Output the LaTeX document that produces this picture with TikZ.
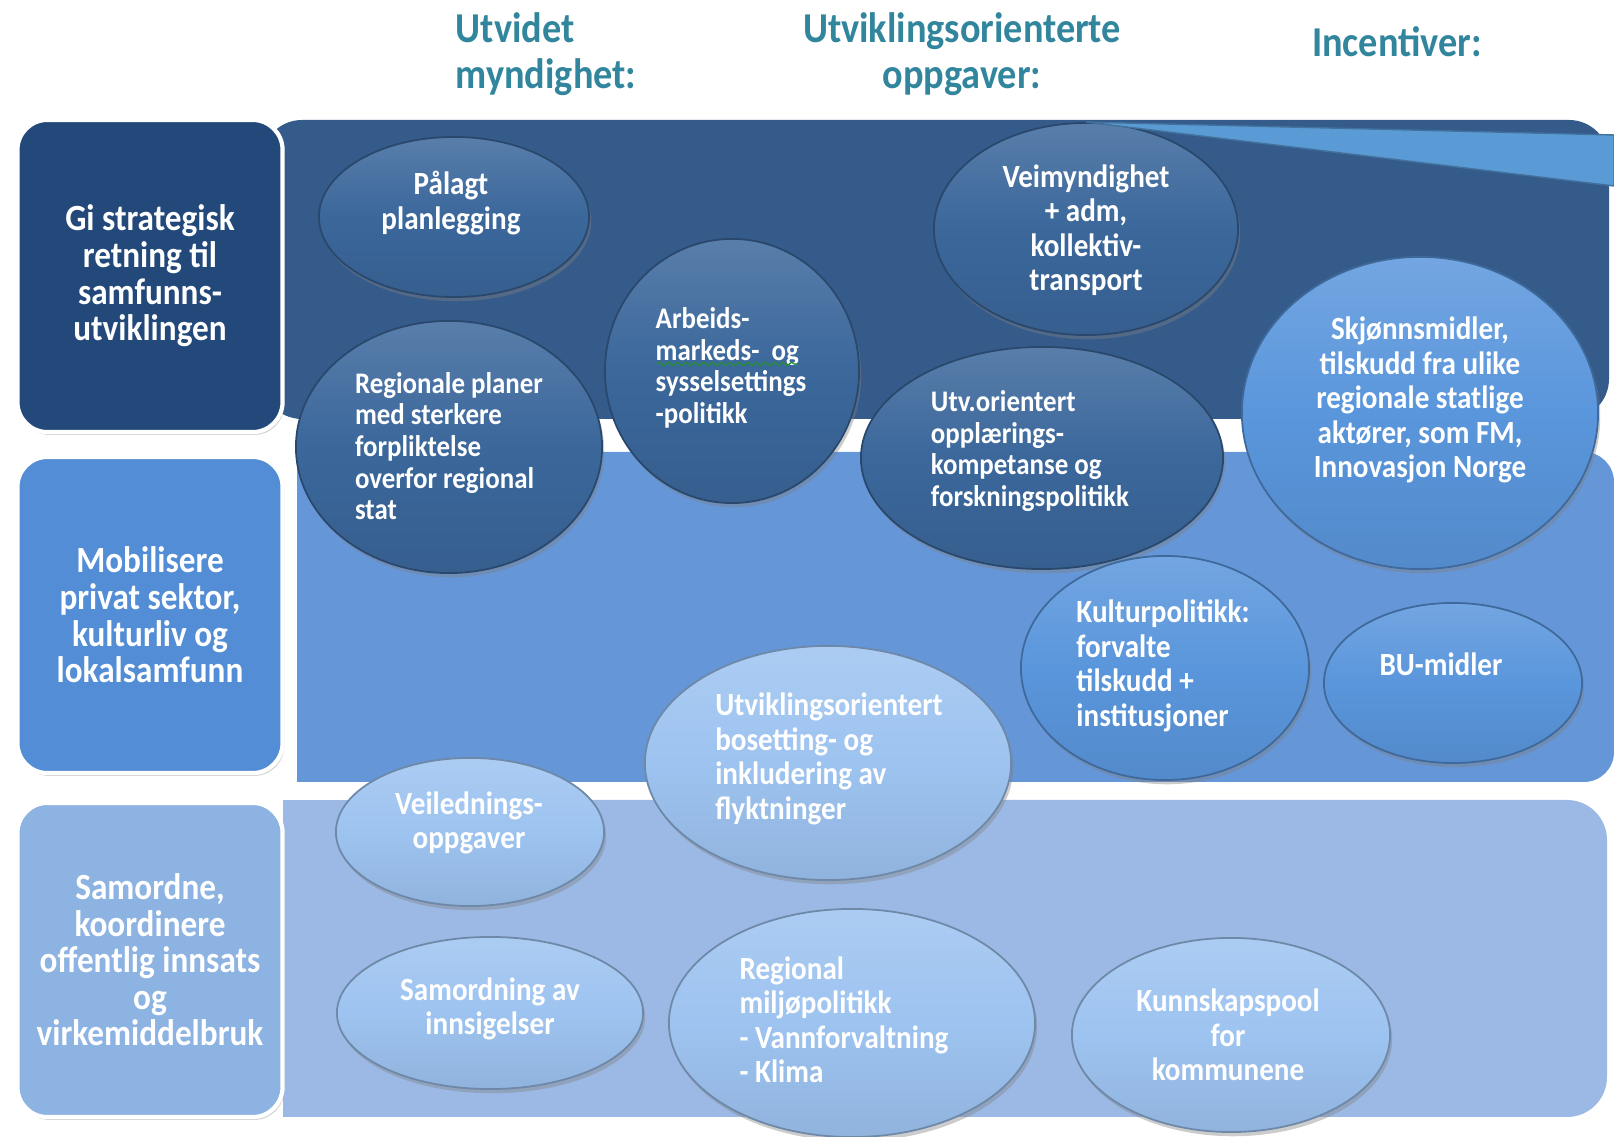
\documentclass[tikz,border=0pt]{standalone}
\usepackage{fontspec}
\setmainfont{Carlito}[FakeStretch=0.9]
\usetikzlibrary{shapes.geometric,shadows,decorations.pathmorphing}
\definecolor{hdteal}{RGB}{49,133,156}
\definecolor{bandA}{RGB}{53,91,139}
\definecolor{bandB}{RGB}{101,150,216}
\definecolor{bandC}{RGB}{155,185,228}
\definecolor{boxA}{RGB}{35,72,122}
\definecolor{boxB}{RGB}{83,141,213}
\definecolor{boxC}{RGB}{141,179,226}
\definecolor{ovalA}{RGB}{59,103,155}
\definecolor{ovalB}{RGB}{90,150,220}
\definecolor{ovalC}{RGB}{157,195,240}
\definecolor{wedgefill}{RGB}{91,155,213}
\definecolor{wedgeline}{RGB}{65,113,156}
\definecolor{squiggle}{RGB}{40,140,60}

\begin{document}
\begin{tikzpicture}[x=0.01cm, y=-0.01cm,
    head/.style={text=hdteal, inner sep=0pt, font=\fontsize{12.1}{13.1}\selectfont\bfseries},
    rowbox/.style={draw=white, line width=1.2pt, rounded corners=0.3cm, minimum width=2.65cm,
        text=white, align=center, font=\fontsize{10.5}{10.4}\selectfont\bfseries,
        drop shadow={shadow xshift=0.5pt, shadow yshift=-0.8pt, opacity=0.35}},
    oval/.style={ellipse, inner sep=0pt, line width=0.5pt,
        drop shadow={shadow xshift=0.6pt, shadow yshift=-1.2pt, opacity=0.4}},
    darkoval/.style={oval, draw=ovalA!70!black, top color=ovalA!85!white, bottom color=ovalA!92!black, middle color=ovalA},
    midoval/.style={oval, draw=ovalB!70!black, top color=ovalB!85!white, bottom color=ovalB!92!black, middle color=ovalB},
    lightoval/.style={oval, draw=ovalC!70!black, top color=ovalC!85!white, bottom color=ovalC!92!black, middle color=ovalC},
    ovaltext/.style={text=white, inner sep=0pt, font=\fontsize{9.2}{9.8}\selectfont\bfseries},
    smalltext/.style={ovaltext, font=\fontsize{8.5}{9}\selectfont\bfseries}]

    \useasboundingbox (0,0) rectangle (1614,1137);

    % column heads
    \node[head, anchor=west, align=left] (hdmynd) at (455,54)  {Utvidet\\myndighet:};
    \node[head, align=center]            (hdoppg) at (962,54)  {Utviklingsorienterte\\oppgaver:};
    \node[head]                          (hdinc)  at (1397,42) {Incentiver:};

    % bands
    \fill[bandA, rounded corners=0.4cm] (262,120) rectangle (1609,419);   %strategisk
    \fill[bandB, rounded corners=0.3cm] (400,452) rectangle (1614,782);   %mobilisere
    \fill[bandB]                        (297,452) rectangle (500,782);    %
    \fill[bandC, rounded corners=0.4cm] (400,800) rectangle (1607,1117);  %samordne
    \fill[bandC]                        (283,800) rectangle (500,1117);   %

    % row boxes
    \node[rowbox, fill=boxA, minimum height=3.12cm] (rowA) at (150,276) {Gi strategisk\\retning til\\samfunns-\\utviklingen};
    \node[rowbox, fill=boxB, minimum height=3.16cm] (rowB) at (150,615) {Mobilisere\\privat sektor,\\kulturliv og\\lokalsamfunn};
    \node[rowbox, fill=boxC, minimum height=3.14cm] (rowC) at (150,960) {Samordne,\\koordinere\\offentlig innsats\\og\\virkemiddelbruk};

    % ovals, top band
    \node[darkoval, minimum width=2.70cm, minimum height=1.60cm] (plan)  at (454,217)  {};
    \node[ovaltext, align=center] (plan-t)  at (451,203)  {Pålagt\\planlegging};
    \node[darkoval, minimum width=3.06cm, minimum height=2.52cm] (regpl) at (449,447)  {};
    \node[smalltext, align=left]  (regpl-t) at (449,446)  {Regionale planer\\med sterkere\\forpliktelse\\overfor regional\\stat};
    \node[darkoval, minimum width=2.54cm, minimum height=2.64cm] (arb)   at (732,371)  {};
    \node[smalltext, align=left]  (arb-t)   at (731,368)  {Arbeids-\\markeds-\ \ og\\sysselsettings\\-politikk};
    \node[darkoval, minimum width=3.04cm, minimum height=2.12cm] (vei)   at (1086,229) {};
    \node[ovaltext, align=center] (vei-t)   at (1086,230) {Veimyndighet\\+ adm,\\kollektiv-\\transport};
    \node[darkoval, minimum width=3.62cm, minimum height=2.22cm] (utv)   at (1042,458) {};
    \node[smalltext, align=left]  (utv-t)   at (1030,451) {Utv.orientert\\opplærings-\\kompetanse og\\forskningspolitikk};

    \draw[squiggle, line width=0.4pt, decorate, decoration={snake, amplitude=0.5pt, segment length=2.5pt}]
        (657,364) -- (798,364);                                             %spell check

    % callout wedge
    \filldraw[fill=wedgefill, draw=wedgeline, line width=0.4pt] (vei.north) -- (1614,135) -- (1614,186) -- cycle;

    % ovals, middle band
    \node[midoval, minimum width=3.56cm, minimum height=3.12cm] (skj)  at (1420,413) {};
    \node[ovaltext, align=center] (skj-t)  at (1420,400) {Skjønnsmidler,\\tilskudd fra ulike\\regionale statlige\\aktører, som FM,\\Innovasjon Norge};
    \node[midoval, minimum width=2.88cm, minimum height=2.24cm] (kult) at (1165,668) {};
    \node[ovaltext, align=left]   (kult-t) at (1163,666) {Kulturpolitikk:\\forvalte\\tilskudd +\\institusjoner};
    \node[midoval, minimum width=2.58cm, minimum height=1.60cm] (bu)   at (1453,683) {};
    \node[ovaltext]               (bu-t)   at (1441,664) {BU-midler};

    % ovals, bottom band
    \node[lightoval, minimum width=3.66cm, minimum height=2.34cm] (bos)  at (828,763)  {};
    \node[ovaltext, align=left]   (bos-t)  at (829,759)  {Utviklingsorientert\\bosetting- og\\inkludering av\\flyktninger};
    \node[lightoval, minimum width=2.68cm, minimum height=1.48cm] (veil) at (470,832)  {};
    \node[ovaltext, align=center] (veil-t) at (469,823)  {Veilednings-\\oppgaver};
    \node[lightoval, minimum width=3.06cm, minimum height=1.52cm] (inns) at (490,1013) {};
    \node[ovaltext, align=center] (inns-t) at (490,1009) {Samordning av\\innsigelser};
    \node[lightoval, minimum width=3.66cm, minimum height=2.28cm] (milj) at (852,1023) {};
    \node[ovaltext, align=left]   (milj-t) at (844,1020) {Regional\\miljøpolitikk\\- Vannforvaltning\\- Klima};
    \node[lightoval, minimum width=3.18cm, minimum height=1.94cm] (pool) at (1231,1035) {};
    \node[ovaltext, align=center] (pool-t) at (1228,1035) {Kunnskapspool\\for\\kommunene};
\end{tikzpicture}
\end{document}
